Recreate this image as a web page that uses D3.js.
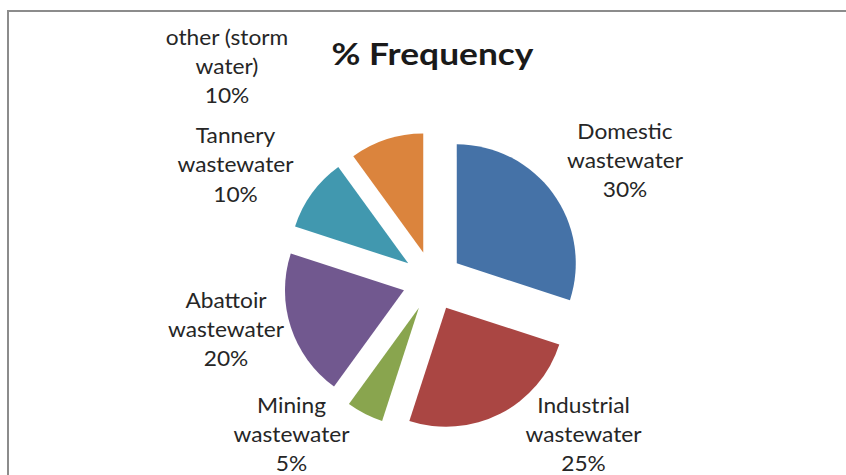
<!DOCTYPE html>
<html>
<head>
<meta charset="utf-8">
<script src="https://cdn.jsdelivr.net/npm/d3@7"></script>
<style>
  html, body { margin: 0; padding: 0; background: #ffffff; }
  svg { display: block; }
</style>
</head>
<body>
<svg id="chart" width="846" height="475"></svg>
<script>
// Wastewater sources and their share (%)
const categories = [
  "Domestic wastewater",
  "Industrial wastewater",
  "Mining wastewater",
  "Abattoir wastewater",
  "Tannery wastewater",
  "other (storm water)"
];
const frequency = [30, 25, 5, 20, 10, 10];
// Label text split into lines (name lines, then the value line)
const labelLines = [
  ["Domestic", "wastewater"],
  ["Industrial", "wastewater"],
  ["Mining", "wastewater"],
  ["Abattoir", "wastewater"],
  ["Tannery", "wastewater"],
  ["other (storm", "water)"]
];
const sliceColors = ["#4572A7", "#AA4643", "#89A54E", "#71588F", "#4198AF", "#DB843D"];
const title = "% Frequency";

// Layout
const W = 846, H = 475;
const cx = 432.5, cy = 281;
const radius = 119;
const explode = 30;
// Label block anchors (center x, first baseline y)
const labelAnchors = [
  [625, 138.5], [583.5, 412.5], [291.5, 412.5], [226, 307.5], [235.5, 143], [227, 44.5]
];
const lineGap = 29.3;

const svg = d3.select("#chart");

// Chart area frame (only top and left edges visible)
svg.append("path")
  .attr("d", `M8,${H + 2} V11 H${W + 2}`)
  .attr("fill", "none")
  .attr("stroke", "#8c8c8c")
  .attr("stroke-width", 2);

const pie = d3.pie().sort(null).value(d => d)(frequency);
const arc = d3.arc().innerRadius(0).outerRadius(radius);

const g = svg.append("g").attr("transform", `translate(${cx},${cy})`);
g.selectAll("path.slice")
  .data(pie)
  .join("path")
  .attr("class", "slice")
  .attr("fill", (d, i) => sliceColors[i])
  .attr("d", arc)
  .attr("transform", d => {
    const a = (d.startAngle + d.endAngle) / 2;
    return `translate(${explode * Math.sin(a)},${-explode * Math.cos(a)})`;
  });

// Horizontal squeeze so the label font gets a Calibri-like width
const labelFont = "Lato, 'Open Sans', sans-serif";
const probe = svg.append("text")
  .attr("font-family", labelFont).attr("font-size", 22)
  .text("wastewater");
const kLabel = 116 / probe.node().getComputedTextLength();
probe.remove();

const labels = svg.selectAll("g.label")
  .data(pie)
  .join("g")
  .attr("class", "label")
  .attr("transform", (d, i) => `translate(${labelAnchors[i][0]},${labelAnchors[i][1]}) scale(${kLabel},1)`);

labels.each(function (d, i) {
  const lines = labelLines[i].concat([d3.format(".0%")(d.value / 100)]);
  d3.select(this).selectAll("text")
    .data(lines)
    .join("text")
    .attr("x", 0)
    .attr("y", (t, j) => j * lineGap)
    .attr("text-anchor", "middle")
    .attr("font-family", labelFont)
    .attr("font-size", 22)
    .attr("fill", "#262626")
    .text(t => t);
});

// Title
const titleText = svg.append("text")
  .attr("text-anchor", "middle")
  .attr("font-family", labelFont)
  .attr("font-weight", "bold")
  .attr("font-size", 31)
  .attr("fill", "#1a1a1a")
  .text(title);
const kTitle = 202 / titleText.node().getComputedTextLength();
titleText.attr("transform", `translate(${cx},65) scale(${kTitle},1)`);
</script>
</body>
</html>
